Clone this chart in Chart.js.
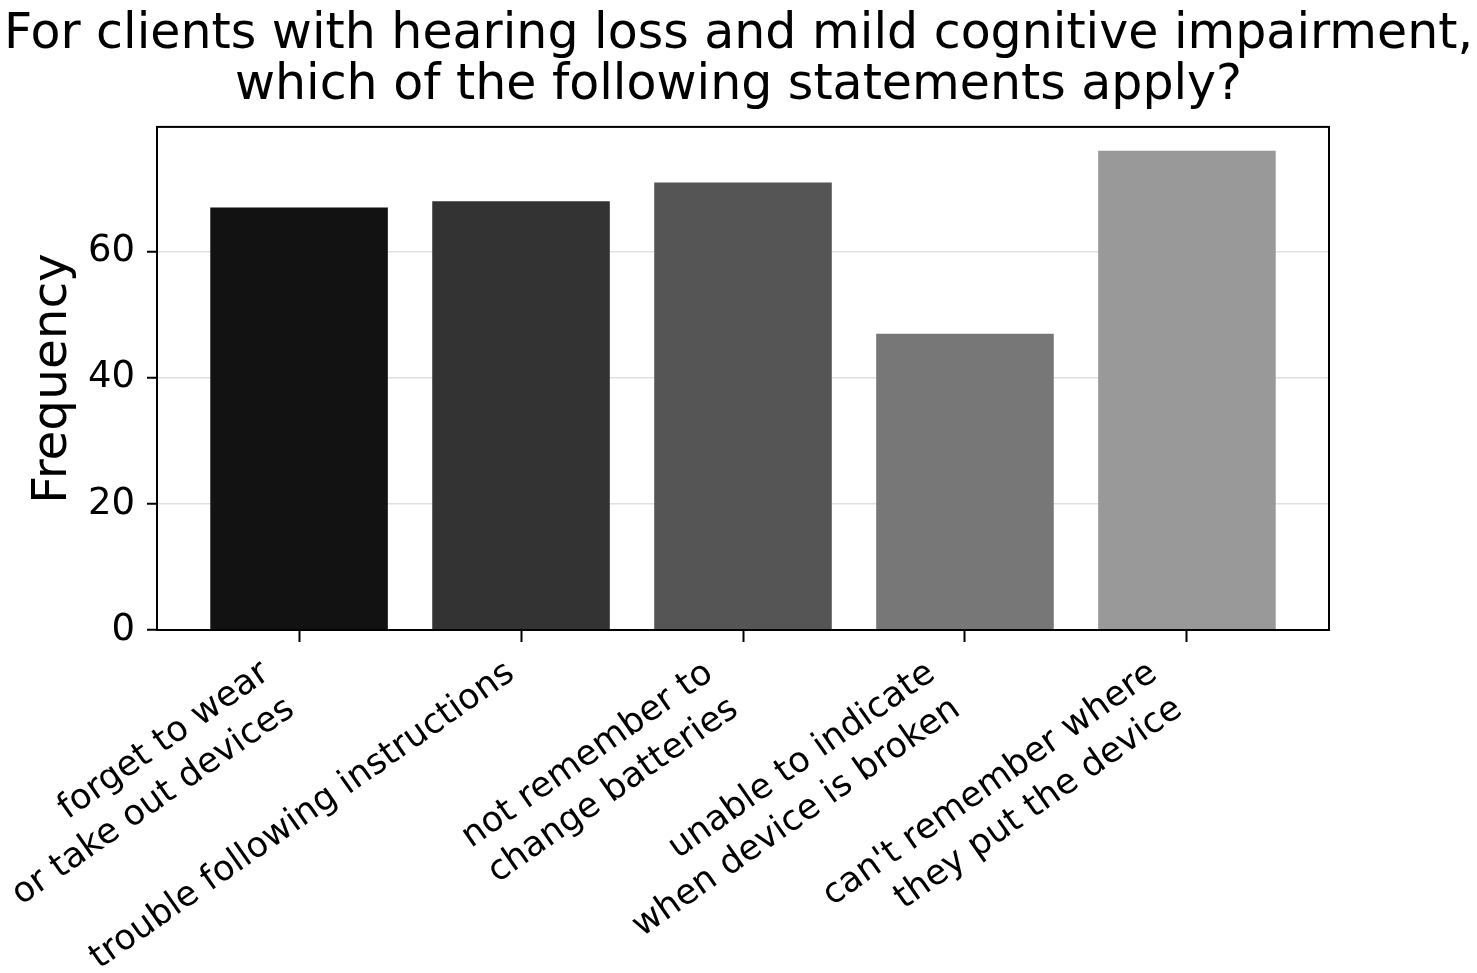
<!DOCTYPE html>
<html>
<head>
<meta charset="utf-8">
<script src="https://cdn.jsdelivr.net/npm/chart.js@4/dist/chart.umd.min.js"></script>
<style>
  html, body { margin: 0; padding: 0; background: #fff; }
  #wrap { width: 1477px; height: 973px; }
</style>
</head>
<body>
<div id="wrap"><canvas id="bar-chart" width="1477" height="973"></canvas></div>
<script>
// statements from the survey (multi-line tick labels)
const categories = [
  ["forget to wear", "or take out devices"],
  ["trouble following instructions"],
  ["not remember to", "change batteries"],
  ["unable to indicate", "when device is broken"],
  ["can't remember where", "they put the device"]
];
const frequency = [67, 68, 71, 47, 76];
const barColors = ["#121212", "#333333", "#555555", "#777777", "#999999"];
const yTicks = [0, 20, 40, 60];

const titleLines = [
  "For clients with hearing loss and mild cognitive impairment,",
  "which of the following statements apply?"
];

const FONT = "'DejaVu Sans', sans-serif";

// box round the plot area, like the matplotlib frame
const frame = {
  id: 'frame',
  afterDraw(chart) {
    const {ctx, chartArea: a} = chart;
    ctx.save();
    ctx.strokeStyle = '#000';
    ctx.lineWidth = 2;
    ctx.strokeRect(a.left, a.top, a.right - a.left, a.bottom - a.top);
    ctx.restore();
  }
};

Chart.defaults.font.family = FONT;
Chart.defaults.color = '#000';

const xMin = -0.64, xMax = 4.64;

// fixed axis sizes; drop the side padding chart.js adds for rotated labels
const fixHeight = (h) => (scale) => {
  scale.height = h;
  scale.paddingLeft = 0;
  scale.paddingRight = 0;
};

new Chart(document.getElementById("bar-chart"), {
  type: 'bar',
  data: {
    datasets: [{
      data: frequency.map((v, i) => ({x: i, y: v})),
      backgroundColor: barColors,
      borderWidth: 0,
      barPercentage: 0.8,
      categoryPercentage: 1.0
    }]
  },
  options: {
    responsive: false,
    animation: false,
    layout: { padding: 0 },
    plugins: {
      legend: { display: false },
      tooltip: { enabled: false },
      title: {
        display: true,
        text: titleLines,
        color: '#000',
        font: { size: 49, weight: 'normal', lineHeight: 1.05 },
        padding: { top: 9.5, bottom: 14.5 }
      }
    },
    scales: {
      // tick marks only
      x: {
        type: 'linear',
        weight: 0,
        offset: false,
        min: xMin,
        max: xMax,
        afterBuildTicks: (scale) => {
          scale.ticks = categories.map((c, i) => ({value: i}));
        },
        afterFit: fixHeight(12),
        grid: {
          offset: false,
          drawOnChartArea: false,
          tickLength: 12,
          tickColor: '#000',
          tickWidth: 2
        },
        border: { display: false },
        ticks: { display: false }
      },
      // rotated category labels, anchored like matplotlib's ha='right'
      xLabels: {
        type: 'linear',
        position: 'bottom',
        weight: 1,
        offset: false,
        min: xMin,
        max: xMax,
        afterBuildTicks: (scale) => {
          scale.ticks = categories.map((c, i) => ({value: c.length > 1 ? i - 0.105 : i}));
        },
        afterFit: fixHeight(331),
        grid: { display: false, drawTicks: false },
        border: { display: false },
        ticks: {
          minRotation: 35,
          maxRotation: 35,
          padding: 10,
          labelOffset: -10,
          autoSkip: false,
          font: { size: 35, lineHeight: 1.25 },
          callback: (value, index) => categories[index]
        }
      },
      y: {
        min: 0,
        max: 79.8,
        z: 1,
        afterBuildTicks: (scale) => {
          scale.ticks = yTicks.map(v => ({value: v}));
        },
        afterFit: (scale) => { scale.width = 157; },
        grid: {
          color: 'rgba(181,181,181,0.42)',
          lineWidth: 1.5,
          tickLength: 10,
          tickColor: '#000',
          tickWidth: 2
        },
        border: { display: false },
        ticks: {
          padding: 12,
          font: { size: 37 }
        },
        title: {
          display: true,
          text: 'Frequency',
          font: { size: 48.5, lineHeight: 1.2 },
          padding: { top: 24, bottom: 0 }
        }
      },
      // empty right margin so the title centres on the whole figure
      yRight: {
        position: 'right',
        afterFit: (scale) => { scale.width = 148; },
        grid: { display: false, drawTicks: false },
        border: { display: false },
        ticks: { display: false }
      }
    }
  },
  plugins: [frame]
});
</script>
</body>
</html>
